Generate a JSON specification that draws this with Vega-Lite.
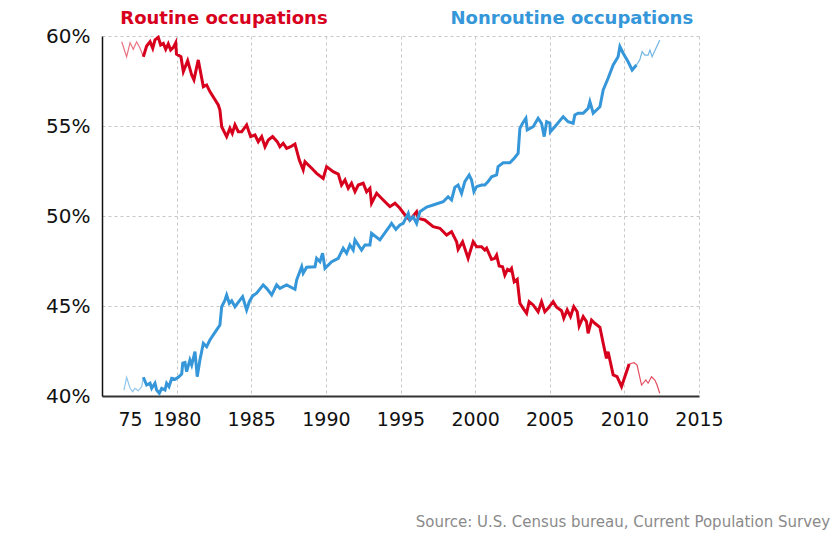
{
  "$schema": "https://vega.github.io/schema/vega-lite/v6.json",
  "width": 597,
  "height": 360,
  "autosize": {"type": "none"},
  "padding": {"left": 102, "top": 36, "right": 141, "bottom": 139},
  "background": "white",
  "config": {"view": {"stroke": null}},
  "title": {
    "text": "Source: U.S. Census bureau, Current Population Survey",
    "orient": "bottom", "anchor": "end", "align": "right", "dx": 107, "offset": 86,
    "font": "DejaVu Sans", "fontSize": 15, "fontWeight": "normal", "color": "#8a8a8a"
  },
  "datasets": {
    "lines": [
      {"series":"Routine occupations","year":1976.32,"v":59.68},
      {"series":"Routine occupations","year":1976.65,"v":58.85},
      {"series":"Routine occupations","year":1976.88,"v":59.63},
      {"series":"Routine occupations","year":1977.10,"v":59.26},
      {"series":"Routine occupations","year":1977.32,"v":59.68},
      {"series":"Routine occupations","year":1977.55,"v":59.32},
      {"series":"Routine occupations","year":1977.77,"v":58.85},
      {"series":"Routine occupations","year":1977.99,"v":59.44},
      {"series":"Routine occupations","year":1978.22,"v":59.68},
      {"series":"Routine occupations","year":1978.40,"v":59.32},
      {"series":"Routine occupations","year":1978.55,"v":59.78},
      {"series":"Routine occupations","year":1978.77,"v":59.93},
      {"series":"Routine occupations","year":1978.93,"v":59.50},
      {"series":"Routine occupations","year":1979.11,"v":59.59},
      {"series":"Routine occupations","year":1979.27,"v":59.26},
      {"series":"Routine occupations","year":1979.44,"v":59.56},
      {"series":"Routine occupations","year":1979.60,"v":59.22},
      {"series":"Routine occupations","year":1979.78,"v":59.37},
      {"series":"Routine occupations","year":1979.94,"v":59.63},
      {"series":"Routine occupations","year":1979.99,"v":59.00},
      {"series":"Routine occupations","year":1980.29,"v":58.85},
      {"series":"Routine occupations","year":1980.45,"v":58.02},
      {"series":"Routine occupations","year":1980.74,"v":58.63},
      {"series":"Routine occupations","year":1981.01,"v":57.83},
      {"series":"Routine occupations","year":1981.16,"v":57.56},
      {"series":"Routine occupations","year":1981.45,"v":58.67},
      {"series":"Routine occupations","year":1981.79,"v":57.18},
      {"series":"Routine occupations","year":1982.01,"v":57.28},
      {"series":"Routine occupations","year":1982.23,"v":56.91},
      {"series":"Routine occupations","year":1982.79,"v":56.17},
      {"series":"Routine occupations","year":1982.90,"v":55.89},
      {"series":"Routine occupations","year":1983.02,"v":54.96},
      {"series":"Routine occupations","year":1983.35,"v":54.41},
      {"series":"Routine occupations","year":1983.57,"v":54.87},
      {"series":"Routine occupations","year":1983.73,"v":54.59},
      {"series":"Routine occupations","year":1983.91,"v":55.06},
      {"series":"Routine occupations","year":1984.13,"v":54.68},
      {"series":"Routine occupations","year":1984.36,"v":54.68},
      {"series":"Routine occupations","year":1984.69,"v":55.06},
      {"series":"Routine occupations","year":1984.96,"v":54.41},
      {"series":"Routine occupations","year":1985.25,"v":54.50},
      {"series":"Routine occupations","year":1985.47,"v":54.13},
      {"series":"Routine occupations","year":1985.70,"v":54.41},
      {"series":"Routine occupations","year":1985.92,"v":53.85},
      {"series":"Routine occupations","year":1986.14,"v":54.22},
      {"series":"Routine occupations","year":1986.43,"v":54.41},
      {"series":"Routine occupations","year":1986.74,"v":54.13},
      {"series":"Routine occupations","year":1986.92,"v":53.85},
      {"series":"Routine occupations","year":1987.14,"v":54.04},
      {"series":"Routine occupations","year":1987.37,"v":53.76},
      {"series":"Routine occupations","year":1987.64,"v":53.85},
      {"series":"Routine occupations","year":1987.93,"v":54.00},
      {"series":"Routine occupations","year":1988.22,"v":53.11},
      {"series":"Routine occupations","year":1988.48,"v":52.56},
      {"series":"Routine occupations","year":1988.60,"v":53.02},
      {"series":"Routine occupations","year":1989.05,"v":52.65},
      {"series":"Routine occupations","year":1989.38,"v":52.37},
      {"series":"Routine occupations","year":1989.82,"v":52.09},
      {"series":"Routine occupations","year":1990.05,"v":52.74},
      {"series":"Routine occupations","year":1990.49,"v":52.46},
      {"series":"Routine occupations","year":1990.83,"v":52.33},
      {"series":"Routine occupations","year":1991.05,"v":51.72},
      {"series":"Routine occupations","year":1991.28,"v":52.00},
      {"series":"Routine occupations","year":1991.50,"v":51.54},
      {"series":"Routine occupations","year":1991.72,"v":51.82},
      {"series":"Routine occupations","year":1991.95,"v":51.35},
      {"series":"Routine occupations","year":1992.17,"v":51.72},
      {"series":"Routine occupations","year":1992.50,"v":51.82},
      {"series":"Routine occupations","year":1992.73,"v":51.35},
      {"series":"Routine occupations","year":1992.95,"v":51.54},
      {"series":"Routine occupations","year":1993.06,"v":50.71},
      {"series":"Routine occupations","year":1993.40,"v":51.26},
      {"series":"Routine occupations","year":1993.84,"v":50.89},
      {"series":"Routine occupations","year":1994.29,"v":50.52},
      {"series":"Routine occupations","year":1994.63,"v":50.71},
      {"series":"Routine occupations","year":1994.96,"v":50.43},
      {"series":"Routine occupations","year":1995.30,"v":50.06},
      {"series":"Routine occupations","year":1995.63,"v":49.78},
      {"series":"Routine occupations","year":1996.08,"v":50.24},
      {"series":"Routine occupations","year":1996.19,"v":49.87},
      {"series":"Routine occupations","year":1996.63,"v":49.78},
      {"series":"Routine occupations","year":1997.19,"v":49.41},
      {"series":"Routine occupations","year":1997.64,"v":49.32},
      {"series":"Routine occupations","year":1998.09,"v":48.94},
      {"series":"Routine occupations","year":1998.42,"v":49.13},
      {"series":"Routine occupations","year":1998.76,"v":48.57},
      {"series":"Routine occupations","year":1998.86,"v":48.15},
      {"series":"Routine occupations","year":1999.16,"v":48.57},
      {"series":"Routine occupations","year":1999.53,"v":47.65},
      {"series":"Routine occupations","year":1999.87,"v":48.57},
      {"series":"Routine occupations","year":2000.10,"v":48.29},
      {"series":"Routine occupations","year":2000.43,"v":48.29},
      {"series":"Routine occupations","year":2000.65,"v":48.11},
      {"series":"Routine occupations","year":2000.77,"v":48.21},
      {"series":"Routine occupations","year":2001.10,"v":47.59},
      {"series":"Routine occupations","year":2001.32,"v":47.65},
      {"series":"Routine occupations","year":2001.44,"v":47.83},
      {"series":"Routine occupations","year":2001.61,"v":47.22},
      {"series":"Routine occupations","year":2001.84,"v":47.18},
      {"series":"Routine occupations","year":2001.99,"v":46.72},
      {"series":"Routine occupations","year":2002.17,"v":47.04},
      {"series":"Routine occupations","year":2002.33,"v":46.96},
      {"series":"Routine occupations","year":2002.44,"v":47.09},
      {"series":"Routine occupations","year":2002.62,"v":46.35},
      {"series":"Routine occupations","year":2002.82,"v":46.48},
      {"series":"Routine occupations","year":2003.00,"v":45.15},
      {"series":"Routine occupations","year":2003.22,"v":44.87},
      {"series":"Routine occupations","year":2003.45,"v":44.59},
      {"series":"Routine occupations","year":2003.62,"v":45.24},
      {"series":"Routine occupations","year":2003.89,"v":45.06},
      {"series":"Routine occupations","year":2004.22,"v":44.68},
      {"series":"Routine occupations","year":2004.45,"v":45.24},
      {"series":"Routine occupations","year":2004.67,"v":44.68},
      {"series":"Routine occupations","year":2004.89,"v":44.87},
      {"series":"Routine occupations","year":2005.23,"v":45.24},
      {"series":"Routine occupations","year":2005.46,"v":44.93},
      {"series":"Routine occupations","year":2005.79,"v":44.74},
      {"series":"Routine occupations","year":2005.94,"v":44.32},
      {"series":"Routine occupations","year":2006.17,"v":44.78},
      {"series":"Routine occupations","year":2006.39,"v":44.41},
      {"series":"Routine occupations","year":2006.61,"v":44.96},
      {"series":"Routine occupations","year":2006.84,"v":44.68},
      {"series":"Routine occupations","year":2006.97,"v":43.89},
      {"series":"Routine occupations","year":2007.24,"v":44.41},
      {"series":"Routine occupations","year":2007.46,"v":44.13},
      {"series":"Routine occupations","year":2007.57,"v":43.48},
      {"series":"Routine occupations","year":2007.80,"v":44.22},
      {"series":"Routine occupations","year":2008.02,"v":44.04},
      {"series":"Routine occupations","year":2008.36,"v":43.82},
      {"series":"Routine occupations","year":2008.58,"v":42.93},
      {"series":"Routine occupations","year":2008.80,"v":42.09},
      {"series":"Routine occupations","year":2008.91,"v":42.46},
      {"series":"Routine occupations","year":2009.25,"v":41.17},
      {"series":"Routine occupations","year":2009.51,"v":41.07},
      {"series":"Routine occupations","year":2009.81,"v":40.52},
      {"series":"Routine occupations","year":2010.03,"v":41.07},
      {"series":"Routine occupations","year":2010.32,"v":41.78},
      {"series":"Routine occupations","year":2010.65,"v":41.85},
      {"series":"Routine occupations","year":2010.85,"v":41.72},
      {"series":"Routine occupations","year":2011.15,"v":40.61},
      {"series":"Routine occupations","year":2011.44,"v":40.89},
      {"series":"Routine occupations","year":2011.59,"v":40.71},
      {"series":"Routine occupations","year":2011.82,"v":41.07},
      {"series":"Routine occupations","year":2012.04,"v":40.89},
      {"series":"Routine occupations","year":2012.19,"v":40.61},
      {"series":"Routine occupations","year":2012.37,"v":40.15},
      {"series":"Nonroutine occupations","year":1976.47,"v":40.33},
      {"series":"Nonroutine occupations","year":1976.65,"v":41.04},
      {"series":"Nonroutine occupations","year":1976.88,"v":40.43},
      {"series":"Nonroutine occupations","year":1977.06,"v":40.24},
      {"series":"Nonroutine occupations","year":1977.21,"v":40.43},
      {"series":"Nonroutine occupations","year":1977.43,"v":40.29},
      {"series":"Nonroutine occupations","year":1977.66,"v":40.52},
      {"series":"Nonroutine occupations","year":1977.77,"v":41.04},
      {"series":"Nonroutine occupations","year":1977.99,"v":40.61},
      {"series":"Nonroutine occupations","year":1978.22,"v":40.71},
      {"series":"Nonroutine occupations","year":1978.33,"v":40.43},
      {"series":"Nonroutine occupations","year":1978.55,"v":40.71},
      {"series":"Nonroutine occupations","year":1978.66,"v":40.33},
      {"series":"Nonroutine occupations","year":1978.84,"v":40.15},
      {"series":"Nonroutine occupations","year":1979.00,"v":40.43},
      {"series":"Nonroutine occupations","year":1979.22,"v":40.33},
      {"series":"Nonroutine occupations","year":1979.33,"v":40.71},
      {"series":"Nonroutine occupations","year":1979.49,"v":40.52},
      {"series":"Nonroutine occupations","year":1979.67,"v":40.98},
      {"series":"Nonroutine occupations","year":1979.89,"v":40.93},
      {"series":"Nonroutine occupations","year":1980.11,"v":41.04},
      {"series":"Nonroutine occupations","year":1980.34,"v":41.22},
      {"series":"Nonroutine occupations","year":1980.41,"v":41.82},
      {"series":"Nonroutine occupations","year":1980.56,"v":41.86},
      {"series":"Nonroutine occupations","year":1980.67,"v":41.35},
      {"series":"Nonroutine occupations","year":1980.89,"v":42.00},
      {"series":"Nonroutine occupations","year":1981.01,"v":41.72},
      {"series":"Nonroutine occupations","year":1981.23,"v":42.46},
      {"series":"Nonroutine occupations","year":1981.38,"v":41.07},
      {"series":"Nonroutine occupations","year":1981.56,"v":42.00},
      {"series":"Nonroutine occupations","year":1981.79,"v":42.93},
      {"series":"Nonroutine occupations","year":1982.01,"v":42.74},
      {"series":"Nonroutine occupations","year":1982.23,"v":43.11},
      {"series":"Nonroutine occupations","year":1982.68,"v":43.67},
      {"series":"Nonroutine occupations","year":1982.90,"v":43.94},
      {"series":"Nonroutine occupations","year":1983.02,"v":44.96},
      {"series":"Nonroutine occupations","year":1983.24,"v":45.33},
      {"series":"Nonroutine occupations","year":1983.35,"v":45.61},
      {"series":"Nonroutine occupations","year":1983.53,"v":45.15},
      {"series":"Nonroutine occupations","year":1983.69,"v":45.29},
      {"series":"Nonroutine occupations","year":1983.91,"v":44.96},
      {"series":"Nonroutine occupations","year":1984.24,"v":45.33},
      {"series":"Nonroutine occupations","year":1984.42,"v":45.52},
      {"series":"Nonroutine occupations","year":1984.69,"v":44.78},
      {"series":"Nonroutine occupations","year":1984.87,"v":45.24},
      {"series":"Nonroutine occupations","year":1985.09,"v":45.56},
      {"series":"Nonroutine occupations","year":1985.36,"v":45.71},
      {"series":"Nonroutine occupations","year":1985.80,"v":46.17},
      {"series":"Nonroutine occupations","year":1986.03,"v":45.98},
      {"series":"Nonroutine occupations","year":1986.37,"v":45.61},
      {"series":"Nonroutine occupations","year":1986.70,"v":46.17},
      {"series":"Nonroutine occupations","year":1986.92,"v":45.98},
      {"series":"Nonroutine occupations","year":1987.37,"v":46.17},
      {"series":"Nonroutine occupations","year":1987.93,"v":45.93},
      {"series":"Nonroutine occupations","year":1988.04,"v":46.44},
      {"series":"Nonroutine occupations","year":1988.38,"v":47.18},
      {"series":"Nonroutine occupations","year":1988.48,"v":46.82},
      {"series":"Nonroutine occupations","year":1988.71,"v":47.15},
      {"series":"Nonroutine occupations","year":1989.27,"v":47.18},
      {"series":"Nonroutine occupations","year":1989.38,"v":47.65},
      {"series":"Nonroutine occupations","year":1989.60,"v":47.46},
      {"series":"Nonroutine occupations","year":1989.78,"v":47.93},
      {"series":"Nonroutine occupations","year":1989.94,"v":47.09},
      {"series":"Nonroutine occupations","year":1990.39,"v":47.46},
      {"series":"Nonroutine occupations","year":1990.83,"v":47.65},
      {"series":"Nonroutine occupations","year":1991.16,"v":48.21},
      {"series":"Nonroutine occupations","year":1991.39,"v":47.93},
      {"series":"Nonroutine occupations","year":1991.61,"v":48.39},
      {"series":"Nonroutine occupations","year":1991.83,"v":48.11},
      {"series":"Nonroutine occupations","year":1991.95,"v":48.67},
      {"series":"Nonroutine occupations","year":1992.39,"v":48.11},
      {"series":"Nonroutine occupations","year":1992.62,"v":48.39},
      {"series":"Nonroutine occupations","year":1992.95,"v":48.39},
      {"series":"Nonroutine occupations","year":1993.06,"v":49.04},
      {"series":"Nonroutine occupations","year":1993.62,"v":48.67},
      {"series":"Nonroutine occupations","year":1994.18,"v":49.32},
      {"series":"Nonroutine occupations","year":1994.40,"v":49.59},
      {"series":"Nonroutine occupations","year":1994.69,"v":49.26},
      {"series":"Nonroutine occupations","year":1994.96,"v":49.50},
      {"series":"Nonroutine occupations","year":1995.18,"v":49.59},
      {"series":"Nonroutine occupations","year":1995.52,"v":50.15},
      {"series":"Nonroutine occupations","year":1995.63,"v":49.78},
      {"series":"Nonroutine occupations","year":1995.85,"v":49.96},
      {"series":"Nonroutine occupations","year":1996.08,"v":49.59},
      {"series":"Nonroutine occupations","year":1996.30,"v":50.24},
      {"series":"Nonroutine occupations","year":1996.75,"v":50.50},
      {"series":"Nonroutine occupations","year":1997.19,"v":50.61},
      {"series":"Nonroutine occupations","year":1997.86,"v":50.79},
      {"series":"Nonroutine occupations","year":1998.19,"v":51.07},
      {"series":"Nonroutine occupations","year":1998.42,"v":50.89},
      {"series":"Nonroutine occupations","year":1998.64,"v":51.59},
      {"series":"Nonroutine occupations","year":1998.86,"v":51.72},
      {"series":"Nonroutine occupations","year":1999.09,"v":51.26},
      {"series":"Nonroutine occupations","year":1999.31,"v":51.91},
      {"series":"Nonroutine occupations","year":1999.60,"v":52.28},
      {"series":"Nonroutine occupations","year":1999.76,"v":52.00},
      {"series":"Nonroutine occupations","year":1999.92,"v":51.35},
      {"series":"Nonroutine occupations","year":2000.10,"v":51.63},
      {"series":"Nonroutine occupations","year":2000.43,"v":51.72},
      {"series":"Nonroutine occupations","year":2000.65,"v":51.72},
      {"series":"Nonroutine occupations","year":2000.87,"v":51.91},
      {"series":"Nonroutine occupations","year":2001.10,"v":52.18},
      {"series":"Nonroutine occupations","year":2001.44,"v":52.28},
      {"series":"Nonroutine occupations","year":2001.54,"v":52.74},
      {"series":"Nonroutine occupations","year":2001.88,"v":52.96},
      {"series":"Nonroutine occupations","year":2002.33,"v":52.96},
      {"series":"Nonroutine occupations","year":2002.62,"v":53.21},
      {"series":"Nonroutine occupations","year":2002.88,"v":53.48},
      {"series":"Nonroutine occupations","year":2003.00,"v":54.87},
      {"series":"Nonroutine occupations","year":2003.18,"v":55.15},
      {"series":"Nonroutine occupations","year":2003.40,"v":55.43},
      {"series":"Nonroutine occupations","year":2003.49,"v":54.78},
      {"series":"Nonroutine occupations","year":2003.89,"v":54.96},
      {"series":"Nonroutine occupations","year":2004.22,"v":55.43},
      {"series":"Nonroutine occupations","year":2004.45,"v":55.15},
      {"series":"Nonroutine occupations","year":2004.63,"v":54.41},
      {"series":"Nonroutine occupations","year":2004.79,"v":55.24},
      {"series":"Nonroutine occupations","year":2005.01,"v":55.15},
      {"series":"Nonroutine occupations","year":2005.04,"v":54.68},
      {"series":"Nonroutine occupations","year":2005.34,"v":54.96},
      {"series":"Nonroutine occupations","year":2005.90,"v":55.52},
      {"series":"Nonroutine occupations","year":2006.23,"v":55.24},
      {"series":"Nonroutine occupations","year":2006.57,"v":55.15},
      {"series":"Nonroutine occupations","year":2006.68,"v":55.61},
      {"series":"Nonroutine occupations","year":2006.90,"v":55.71},
      {"series":"Nonroutine occupations","year":2007.24,"v":55.71},
      {"series":"Nonroutine occupations","year":2007.57,"v":55.98},
      {"series":"Nonroutine occupations","year":2007.69,"v":56.35},
      {"series":"Nonroutine occupations","year":2007.91,"v":55.71},
      {"series":"Nonroutine occupations","year":2008.36,"v":56.07},
      {"series":"Nonroutine occupations","year":2008.58,"v":57.00},
      {"series":"Nonroutine occupations","year":2008.91,"v":57.65},
      {"series":"Nonroutine occupations","year":2009.25,"v":58.39},
      {"series":"Nonroutine occupations","year":2009.58,"v":58.85},
      {"series":"Nonroutine occupations","year":2009.70,"v":59.41},
      {"series":"Nonroutine occupations","year":2009.92,"v":59.04},
      {"series":"Nonroutine occupations","year":2010.25,"v":58.57},
      {"series":"Nonroutine occupations","year":2010.52,"v":58.11},
      {"series":"Nonroutine occupations","year":2010.81,"v":58.39},
      {"series":"Nonroutine occupations","year":2011.03,"v":58.67},
      {"series":"Nonroutine occupations","year":2011.19,"v":59.13},
      {"series":"Nonroutine occupations","year":2011.37,"v":58.94},
      {"series":"Nonroutine occupations","year":2011.59,"v":58.94},
      {"series":"Nonroutine occupations","year":2011.71,"v":59.22},
      {"series":"Nonroutine occupations","year":2011.86,"v":58.85},
      {"series":"Nonroutine occupations","year":2012.37,"v":59.78}
    ],
    "labels": [
      {"series":"Routine occupations","year":1983.17,"v":60.95},
      {"series":"Nonroutine occupations","year":2006.48,"v":60.95}
    ]
  },
  "encoding": {
    "x": {
      "field": "year", "type": "quantitative",
      "scale": {"domain": [1975, 2015], "nice": false, "zero": false},
      "axis": {
        "title": null,
        "values": [1976.88, 1980, 1985, 1990, 1995, 2000, 2005, 2010, 2015],
        "format": "d",
        "labelExpr": "datum.value < 1979 ? '75' : datum.label",
        "labelFont": "DejaVu Sans", "labelFontSize": 19, "labelColor": "#111111",
        "labelPadding": 14, "labelFlush": false, "labelOverlap": false,
        "ticks": false,
        "domainColor": "#333333", "domainWidth": 2,
        "grid": true, "gridColor": "#c8c8c8", "gridDash": [3, 3], "gridWidth": 1,
        "gridOpacity": {"condition": {"test": "datum.value < 1979", "value": 0}, "value": 1}
      }
    },
    "y": {
      "field": "v", "type": "quantitative",
      "scale": {"domain": [40, 60], "nice": false, "zero": false},
      "axis": {
        "title": null,
        "values": [40, 45, 50, 55, 60],
        "labelExpr": "datum.value + '%'",
        "labelFont": "DejaVu Sans", "labelFontSize": 20, "labelColor": "#111111",
        "labelPadding": 12, "labelFlush": false, "ticks": false,
        "domainColor": "#111111", "domainWidth": 1.5,
        "grid": true, "gridColor": "#c8c8c8", "gridDash": [3, 3], "gridWidth": 1
      }
    },
    "color": {
      "field": "series", "type": "nominal",
      "scale": {"domain": ["Routine occupations", "Nonroutine occupations"], "range": ["#d7001d", "#3597d9"]},
      "legend": null
    }
  },
  "layer": [
    {
      "data": {"name": "lines"},
      "transform": [{"filter": "datum.year <= 1977.77"}],
      "mark": {"type": "line", "strokeWidth": 1.2, "opacity": 0.55, "strokeJoin": "miter"},
      "encoding": {"order": {"field": "year", "type": "quantitative"}}
    },
    {
      "data": {"name": "lines"},
      "transform": [{"filter": "datum.year >= 1977.77 && datum.year <= (datum.series == 'Routine occupations' ? 2010.32 : 2010.81)"}],
      "mark": {"type": "line", "strokeWidth": 3, "strokeJoin": "miter"},
      "encoding": {"order": {"field": "year", "type": "quantitative"}}
    },
    {
      "data": {"name": "lines"},
      "transform": [{"filter": "datum.year >= (datum.series == 'Routine occupations' ? 2010.32 : 2010.81)"}],
      "mark": {"type": "line", "strokeWidth": 1.2, "opacity": 0.7, "strokeJoin": "miter"},
      "encoding": {"order": {"field": "year", "type": "quantitative"}}
    },
    {
      "data": {"name": "labels"},
      "mark": {"type": "text", "font": "DejaVu Sans", "fontSize": 18, "fontWeight": "bold", "baseline": "middle", "align": "center", "clip": false},
      "encoding": {"text": {"field": "series"}}
    }
  ]
}
